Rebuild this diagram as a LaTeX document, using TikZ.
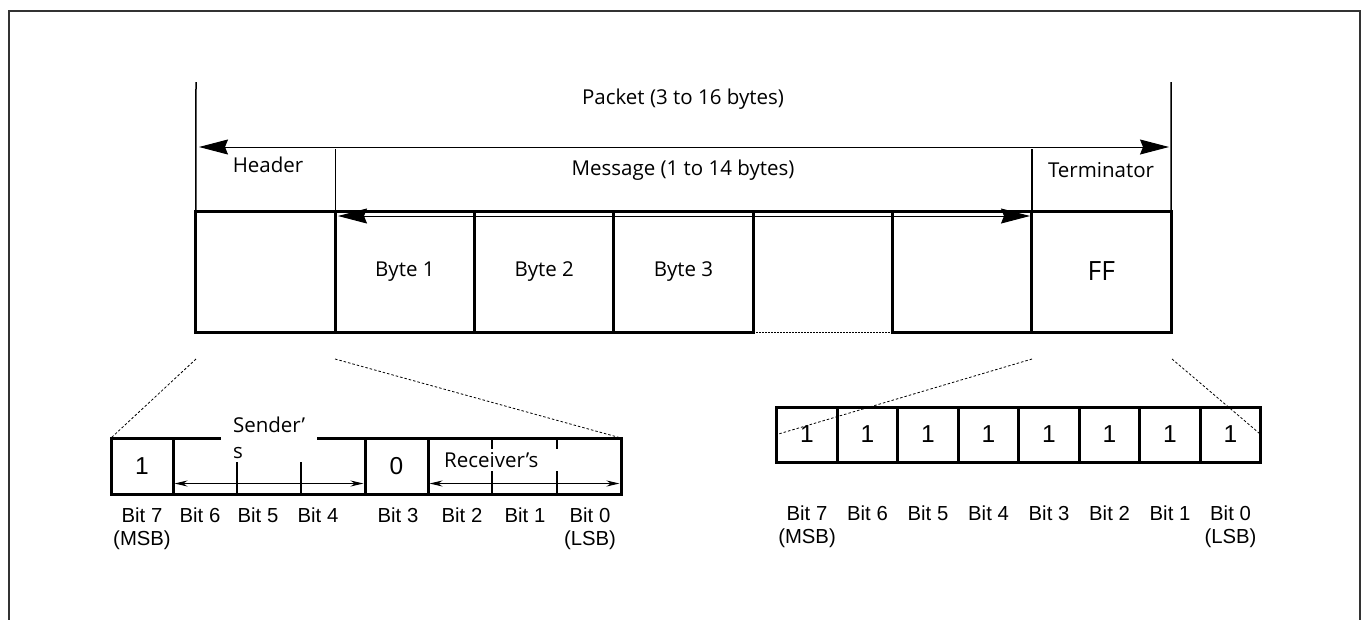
\documentclass[tikz,border=0pt]{standalone}
\usepackage{fontspec}
\setmainfont{Open Sans}
\newfontfamily\arialfont{Liberation Sans}
\usetikzlibrary{arrows.meta,positioning,calc}

\begin{document}
\begin{tikzpicture}[
        x=1pt, y=-1pt, % pixel units, y grows downwards
        frame/.style = {draw=black!80, line width=2pt},
        cell/.style = {minimum width=139.3pt, minimum height=121pt, inner sep=0pt, outer sep=0pt, font=\fontsize{20.5}{25}\selectfont},
        cellbox/.style = {cell, draw, line width=3pt},
        spanline/.style = {line width=1.5pt},
        span/.style = {line width=1pt, {Stealth[length=29pt,width=15pt,inset=3pt]}-{Stealth[length=29pt,width=15pt,inset=3pt]}},
        lbl/.style = {font=\fontsize{20.5}{25}\selectfont, inner sep=0pt},
        bit/.style = {draw, line width=3pt, minimum width=60.5pt, minimum height=55pt, inner sep=0pt, outer sep=0pt, font=\arialfont\fontsize{24.5}{29}\selectfont},
        bitfield/.style = {bit, minimum width=192pt},
        tick/.style = {line width=2pt},
        bitlbl/.style = {font=\arialfont\fontsize{20.3}{24}\selectfont, inner sep=0pt},
        field/.style = {line width=1pt, shorten <=1.5pt, shorten >=1.5pt, {Stealth[length=13pt,width=6pt]}-{Stealth[length=13pt,width=6pt]}},
        zoomline/.style = {line width=0.8pt, dash pattern=on 2.5pt off 2pt},
    ]
    \useasboundingbox (0,0) rectangle (1362,619);
    \draw[frame] (9,630) |- (1360,11) -- (1360,630);

    % packet
    \node[cellbox] (hdr) at (265.6,271.5) {};
    \node[cellbox, right=0pt of hdr] (byte1) {Byte 1};
    \node[cellbox, right=0pt of byte1] (byte2) {Byte 2};
    \node[cellbox, right=0pt of byte2] (byte3) {Byte 3};
    \node[cell, right=0pt of byte3] (byte4) {};
    \node[cellbox, right=0pt of byte4] (byte5) {};
    \node[cellbox, right=0pt of byte5, font=\fontsize{26.5}{31}\selectfont] (term) {FF};
    \draw[line width=3pt] (byte4.south west) |- (byte4.north east) -- (byte4.south east);
    \draw[line width=0.8pt, dash pattern=on 2pt off 1pt] (byte4.south west) -- (byte4.south east);

    \coordinate (pktL) at (196,82);
    \coordinate (pktR) at (1171,82);
    \coordinate (msgTop) at (0,149);
    \draw[spanline] (pktL) -- (hdr.north west);
    \draw[spanline] (pktR) -- (term.north east);
    \draw[spanline] (byte1.north west) -- (byte1.north west |- msgTop);
    \draw[spanline] (term.north west) -- (term.north west |- msgTop);

    \coordinate (pktArrL) at (199,147);
    \coordinate (pktArrR) at (1169,147);
    \coordinate (msgArrL) at (338,216);
    \coordinate (msgArrR) at (1030,216);
    \draw[span] (pktArrL) -- (pktArrR);
    \draw[span] (msgArrL) -- (msgArrR);

    \node[lbl] (pktLbl) at (683,99) {Packet (3 to 16 bytes)};
    \node[lbl] (hdrLbl) at (268,165) {Header};
    \node[lbl] (msgLbl) at (683,170) {Message (1 to 14 bytes)};
    \node[lbl] (termLbl) at (1101,170) {Terminator};

    % header byte
    \node[bit, minimum width=62pt, minimum height=56pt] (lb7) at (142,466) {1};
    \node[bitfield, minimum height=56pt, right=0pt of lb7] (snd) {};
    \node[bit, minimum width=63pt, minimum height=56pt, right=0pt of snd] (lb3) {0};
    \node[bitfield, minimum width=193pt, minimum height=56pt, right=0pt of lb3] (rcv) {};
    \draw[tick] ($(snd.north west)!1/3!(snd.north east)$) -- ($(snd.south west)!1/3!(snd.south east)$);
    \draw[tick] ($(snd.north west)!2/3!(snd.north east)$) -- ($(snd.south west)!2/3!(snd.south east)$);
    \draw[tick] ($(rcv.north west)!1/3!(rcv.north east)$) -- ($(rcv.south west)!1/3!(rcv.south east)$);
    \draw[tick] ($(rcv.north west)!2/3!(rcv.north east)$) -- ($(rcv.south west)!2/3!(rcv.south east)$);
    \node[fill=white, inner xsep=12pt, inner ysep=3pt, text width=72pt, align=left, font=\fontsize{20.5}{26}\selectfont] (sndLbl) at (269,438) {Sender’\\s};
    \node[fill=white, inner xsep=3pt, inner ysep=3pt, text width=125pt, align=left, anchor=west, font=\fontsize{20.5}{25}\selectfont] (rcvLbl) at (441,460) {Receiver’s};
    \draw[field] ([yshift=-17.5pt]snd.west) -- ([yshift=-17.5pt]snd.east);
    \draw[field] ([yshift=-17.5pt]rcv.west) -- ([yshift=-17.5pt]rcv.east);

    \node[bitlbl] (lb7Lbl) at (142,515) {Bit 7};
    \node[bitlbl] (lb6Lbl) at (200,515) {Bit 6};
    \node[bitlbl] (lb5Lbl) at (258,515) {Bit 5};
    \node[bitlbl] (lb4Lbl) at (318,515) {Bit 4};
    \node[bitlbl] (lb3Lbl) at (398,515) {Bit 3};
    \node[bitlbl] (lb2Lbl) at (462,515) {Bit 2};
    \node[bitlbl] (lb1Lbl) at (525,515) {Bit 1};
    \node[bitlbl] (lb0Lbl) at (590,515) {Bit 0};
    \node[bitlbl] (lmsb) at (142,540) {(MSB)};
    \node[bitlbl] (llsb) at (590,540) {(LSB)};

    % terminator byte
    \node[bit] (rb7) at (807,434.5) {1};
    \node[bit, right=0pt of rb7] (rb6) {1};
    \node[bit, right=0pt of rb6] (rb5) {1};
    \node[bit, right=0pt of rb5] (rb4) {1};
    \node[bit, right=0pt of rb4] (rb3) {1};
    \node[bit, right=0pt of rb3] (rb2) {1};
    \node[bit, right=0pt of rb2] (rb1) {1};
    \node[bit, right=0pt of rb1] (rb0) {1};

    \coordinate (bitRow) at (0,513);
    \coordinate (sbRow) at (0,538);
    \node[bitlbl] (rb7Lbl) at (rb7 |- bitRow) {Bit 7};
    \node[bitlbl] (rb6Lbl) at (rb6 |- bitRow) {Bit 6};
    \node[bitlbl] (rb5Lbl) at (rb5 |- bitRow) {Bit 5};
    \node[bitlbl] (rb4Lbl) at (rb4 |- bitRow) {Bit 4};
    \node[bitlbl] (rb3Lbl) at (rb3 |- bitRow) {Bit 3};
    \node[bitlbl] (rb2Lbl) at (rb2 |- bitRow) {Bit 2};
    \node[bitlbl] (rb1Lbl) at (rb1 |- bitRow) {Bit 1};
    \node[bitlbl] (rb0Lbl) at (rb0 |- bitRow) {Bit 0};
    \node[bitlbl] (rmsb) at (rb7 |- sbRow) {(MSB)};
    \node[bitlbl] (rlsb) at (rb0 |- sbRow) {(LSB)};

    % zoom lines
    \coordinate (hdrZoomL) at (196,359);
    \coordinate (hdrZoomR) at (335,359);
    \coordinate (termZoomL) at (1032,359);
    \coordinate (termZoomR) at (1172,359);
    \draw[zoomline] (hdrZoomL) -- (lb7.north west);
    \draw[zoomline] (hdrZoomR) -- (rcv.north east);
    \draw[zoomline] (termZoomL) -- (rb7.west);
    \draw[zoomline] (termZoomR) -- (rb0.east);
\end{tikzpicture}
\end{document}
